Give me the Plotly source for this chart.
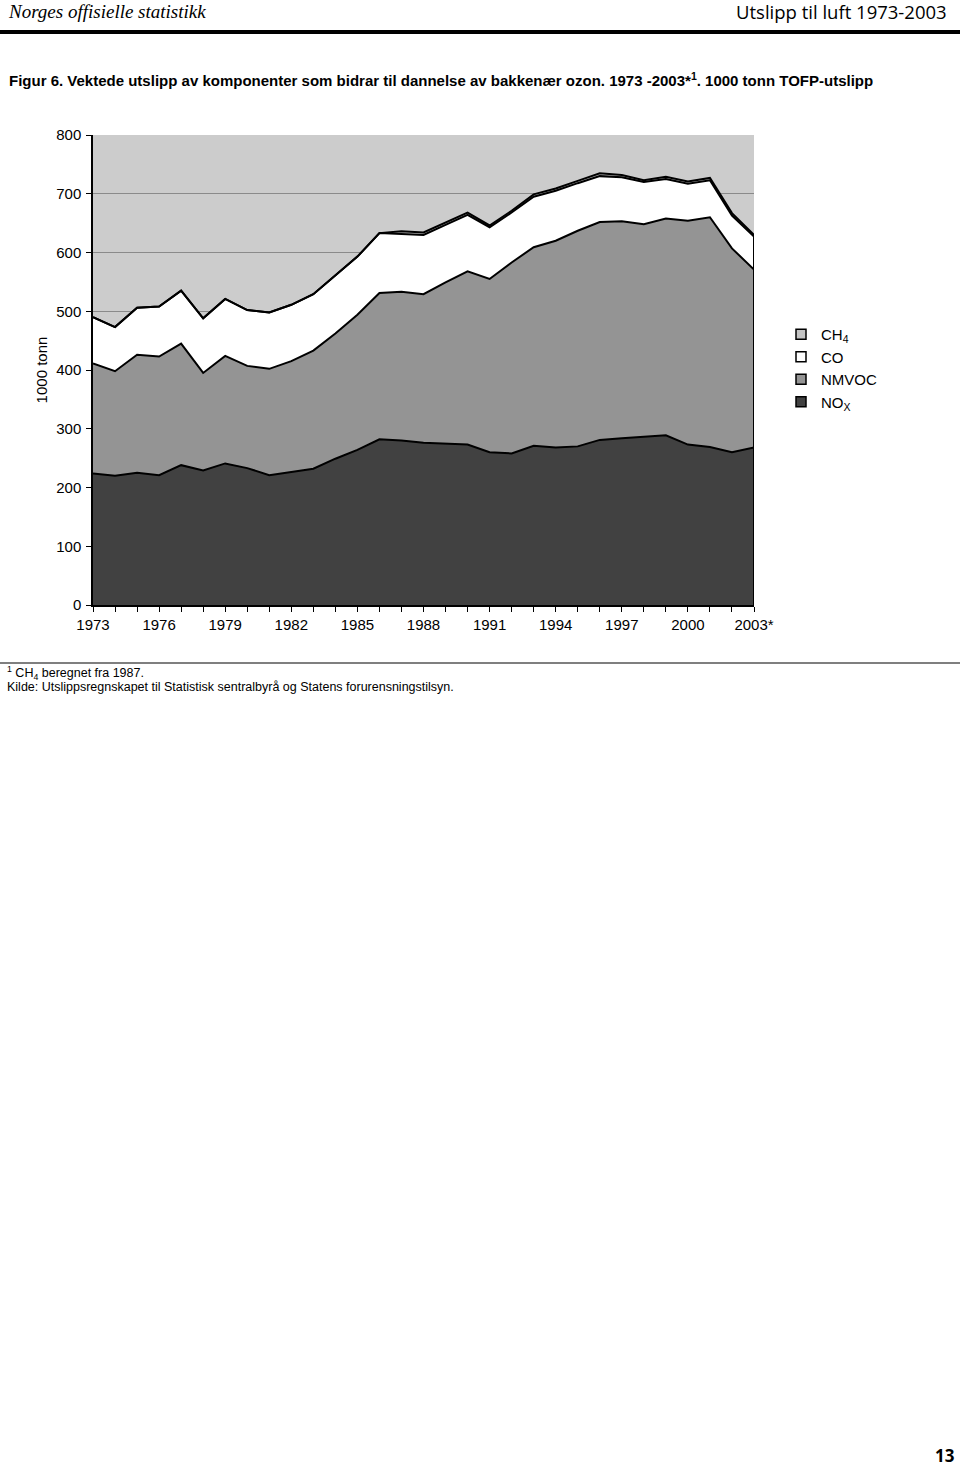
import plotly.graph_objects as go

years = list(range(1973, 2004))
nox = [224, 220, 225, 221, 238, 229, 241, 233, 221, 226, 232, 249, 264, 282,
       280, 276, 274, 273, 260, 258, 271, 268, 270, 281, 284, 286, 289, 273,
       269, 260, 268]
nmvoc = [187, 178, 201, 202, 207, 166, 183, 174, 181, 189, 201, 213, 230, 249,
         253, 253, 275, 295, 295, 325, 338, 352, 367, 371, 369, 362, 369, 381,
         391, 347, 303]
co = [79, 75, 80, 85, 90, 93, 97, 95, 96, 96, 96, 99, 99, 102,
      99, 101, 98, 96, 88, 85, 86, 85, 81, 78, 75, 72, 67, 63,
      63, 56, 56]
ch4 = [0, 0, 0, 0, 0, 0, 0, 0, 0, 0, 0, 0, 0, 0,
       4, 4, 4, 4, 3, 3, 4, 4, 4, 5, 4, 3, 4, 4,
       4, 4, 3]
series_names = ["NO<sub>X</sub>", "NMVOC", "CO", "CH<sub>4</sub>"]
x_tick_labels = [str(y) if (y - 1973) % 3 == 0 else "" for y in years]
x_tick_labels[-1] = "2003*"

colors = {"NO<sub>X</sub>": "#414141", "NMVOC": "#949494", "CO": "#ffffff",
          "CH<sub>4</sub>": "#c4c4c4"}

W, H = 960, 1469
L, R, T, B = 93, 754, 135, 605


def px(x):
    return (x - L) / (R - L)


def py(y):
    return (B - y) / (B - T)


fig = go.Figure()
for name, vals in zip(series_names, [nox, nmvoc, co, ch4]):
    fig.add_trace(go.Scatter(
        x=years, y=vals, name=name, stackgroup="one", mode="lines",
        line=dict(color="black", width=2), fillcolor=colors[name],
        showlegend=False, hoverinfo="skip"))

total_last = nox[-1] + nmvoc[-1] + co[-1] + ch4[-1]
fig.add_trace(go.Scatter(x=[years[-1], years[-1]], y=[0, total_last], mode="lines",
                         line=dict(color="black", width=2), showlegend=False,
                         hoverinfo="skip"))

for name in reversed(series_names):
    fig.add_trace(go.Scatter(
        x=[None], y=[None], mode="markers", name=name,
        marker=dict(symbol="square", size=10, color=colors[name],
                    line=dict(color="black", width=1.5))))

font = "Liberation Sans, Arial, sans-serif"
fig.update_layout(
    width=W, height=H, autosize=False,
    margin=dict(l=L, r=W - R, t=T, b=H - B, pad=0),
    paper_bgcolor="white", plot_bgcolor="#cccccc",
    font=dict(family=font, size=15, color="black"),
    showlegend=True,
    legend=dict(x=px(781), y=py(318), xanchor="left", yanchor="top",
                bgcolor="rgba(0,0,0,0)", font=dict(size=15), itemwidth=30,
                tracegroupgap=0, traceorder="normal"),
    xaxis=dict(range=[1973, 2003], tickmode="array", tickvals=years,
               ticktext=x_tick_labels, ticks="outside", ticklen=5,
               tickcolor="black", showgrid=False, showline=True,
               linecolor="black", linewidth=1.5, zeroline=False,
               tickfont=dict(size=15), fixedrange=True),
    yaxis=dict(range=[0, 800], dtick=100, ticks="outside", ticklen=5,
               tickcolor="black", showgrid=True, gridcolor="#8a8a8a",
               gridwidth=1, showline=True, linecolor="black", linewidth=1.5,
               zeroline=False, tickfont=dict(size=15), ticklabelstandoff=2,
               title=dict(text="1000 tonn", font=dict(size=15), standoff=5),
               fixedrange=True),
)

anns = [
    dict(x=px(6), y=py(12), text="<i>Norges offisielle statistikk</i>",
         xanchor="left", font=dict(family="Liberation Serif, serif", size=19)),
    dict(x=px(949), y=py(12), text="Utslipp til luft 1973-2003",
         xanchor="right", font=dict(family="Open Sans, sans-serif", size=18.5)),
    dict(x=px(7), y=py(79),
         text="<b>Figur 6. Vektede utslipp av komponenter som bidrar til dannelse av bakkenær ozon. 1973 -2003*<sup>1</sup>. 1000 tonn TOFP-utslipp</b>",
         xanchor="left", font=dict(family=font, size=15)),
    dict(x=px(5), y=py(673),
         text="<sup>1</sup> CH<sub>4</sub> beregnet fra 1987.",
         xanchor="left", font=dict(family=font, size=12.5)),
    dict(x=px(5), y=py(687),
         text="Kilde: Utslippsregnskapet til Statistisk sentralbyrå og Statens forurensningstilsyn.",
         xanchor="left", font=dict(family=font, size=12.5)),
    dict(x=px(957), y=py(1456), text="<b>13</b>", xanchor="right",
         font=dict(family="Open Sans, sans-serif", size=17)),
]
for a in anns:
    fig.add_annotation(xref="paper", yref="paper", showarrow=False,
                       yanchor="middle", **a)

fig.add_shape(type="line", xref="paper", yref="paper", x0=px(0), x1=px(960),
              y0=py(32), y1=py(32), line=dict(color="black", width=4))
fig.add_shape(type="line", xref="paper", yref="paper", x0=px(0), x1=px(960),
              y0=py(663), y1=py(663), line=dict(color="#555555", width=1.5))

fig.write_html("out.html", config={"displayModeBar": False},
               post_script="document.body.style.margin='0';document.body.style.padding='0';")
